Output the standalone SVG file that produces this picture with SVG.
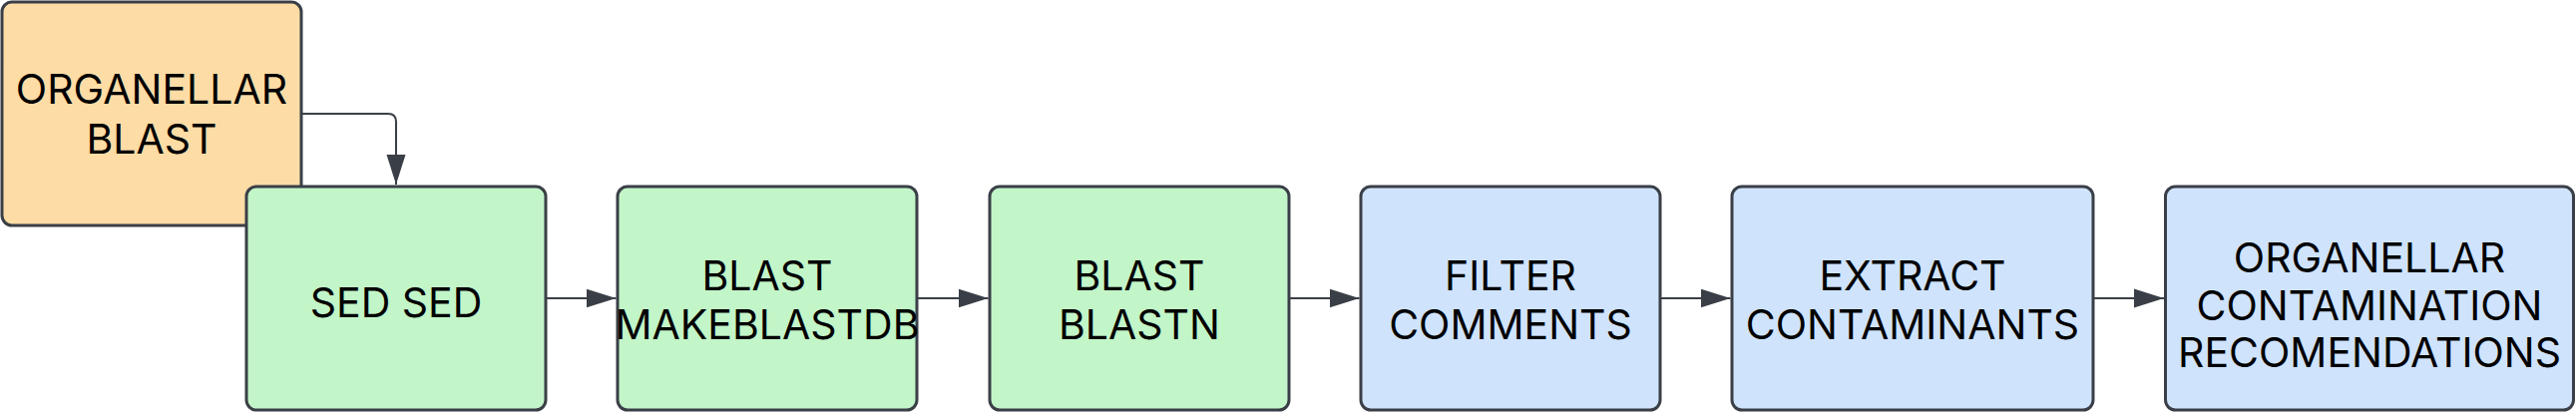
<svg xmlns="http://www.w3.org/2000/svg" width="2582" height="413" viewBox="0 0 2582 413">
<style>
.n rect{stroke:#3a3f47;stroke-width:3}
.o rect{fill:#fddca5}
.g rect{fill:#c2f5c8}
.b rect{fill:#cfe3fd}
text{font-family:"Inter","Liberation Sans",sans-serif;font-size:41px;fill:#000;text-anchor:middle}
.c path{fill:none;stroke:#3a3f47;stroke-width:2}
</style>
<defs>
<marker id="ah" markerUnits="userSpaceOnUse" markerWidth="30" markerHeight="20" refX="30" refY="9.5" orient="auto" viewBox="0 0 30 19">
<path d="M0,0 L30,9.5 L0,19 z" fill="#3a3f47"/>
</marker>
</defs>
<rect width="2582" height="413" fill="#ffffff"/>
<g id="n1" class="n o"><rect x="2" y="2" width="300" height="224" rx="10"/><text x="152" y="104">ORGANELLAR</text><text x="152" y="154">BLAST</text></g>
<g id="n2" class="n g"><rect x="247" y="187" width="300" height="224" rx="10"/><text x="397" y="318">SED SED</text></g>
<g id="n3" class="n g"><rect x="619" y="187" width="300" height="224" rx="10"/><text x="769" y="291">BLAST</text><text x="769" y="340">MAKEBLASTDB</text></g>
<g id="n4" class="n g"><rect x="992" y="187" width="300" height="224" rx="10"/><text x="1142" y="291">BLAST</text><text x="1142" y="340">BLASTN</text></g>
<g id="n5" class="n b"><rect x="1364" y="187" width="300" height="224" rx="10"/><text x="1514" y="291">FILTER</text><text x="1514" y="340">COMMENTS</text></g>
<g id="n6" class="n b"><rect x="1736" y="187" width="362" height="224" rx="10"/><text x="1917" y="291">EXTRACT</text><text x="1917" y="340">CONTAMINANTS</text></g>
<g id="n7" class="n b"><rect x="2170.5" y="187" width="409" height="224" rx="10"/><text x="2375" y="273">ORGANELLAR</text><text x="2375" y="320.5">CONTAMINATION</text><text x="2375" y="368">RECOMENDATIONS</text></g>
<g id="connectors" class="c">
<path d="M303,114 H389 Q397,114 397,122 V185" marker-end="url(#ah)"/>
<path d="M548,299 H617.5" marker-end="url(#ah)"/>
<path d="M920,299 H990.5" marker-end="url(#ah)"/>
<path d="M1293,299 H1362.5" marker-end="url(#ah)"/>
<path d="M1665,299 H1734.5" marker-end="url(#ah)"/>
<path d="M2099,299 H2169" marker-end="url(#ah)"/>
</g>
</svg>
